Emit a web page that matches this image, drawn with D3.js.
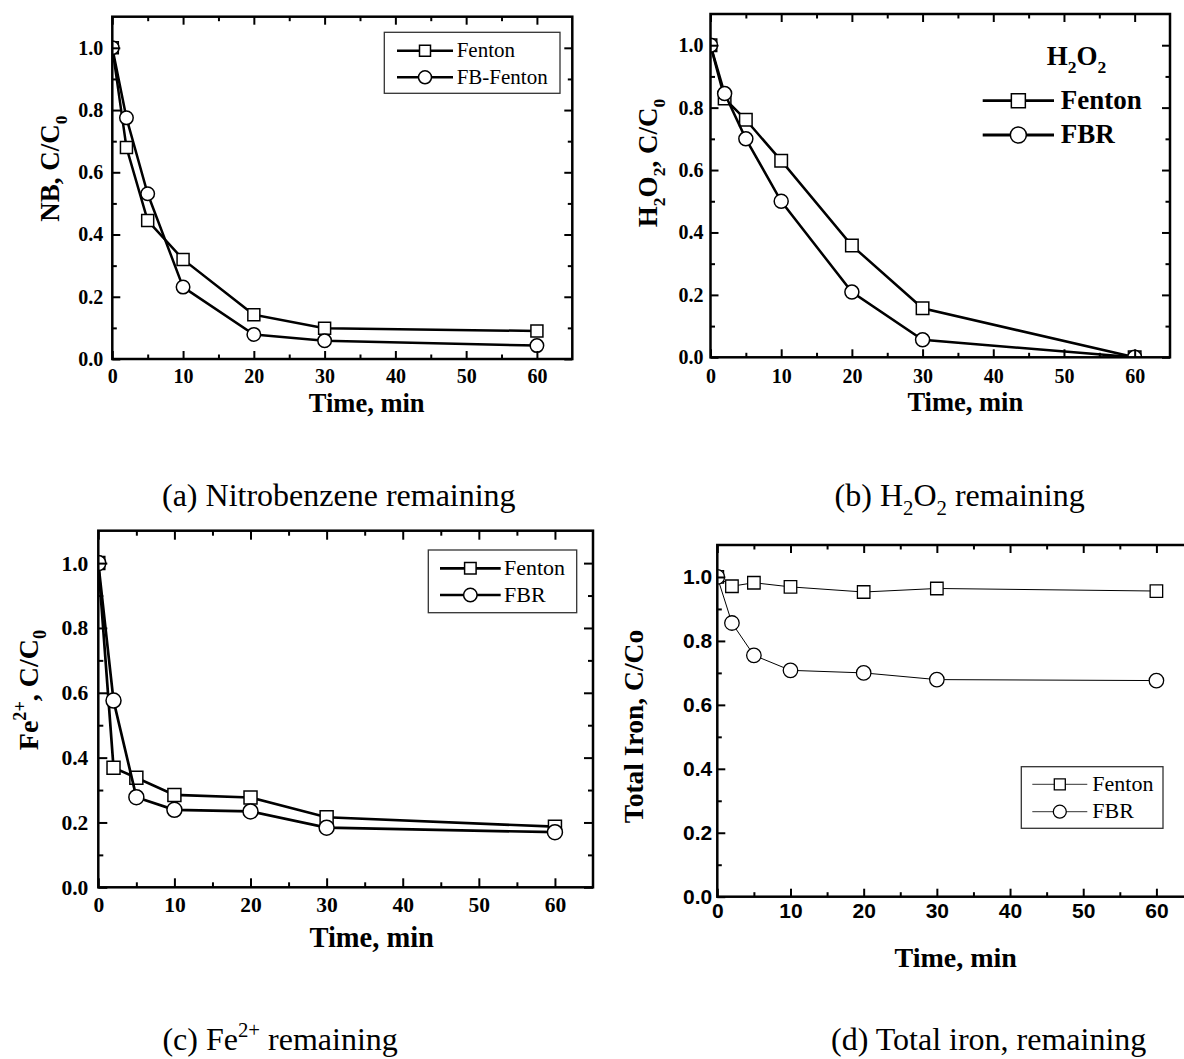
<!DOCTYPE html>
<html lang="en">
<head>
<meta charset="utf-8">
<title>Fenton vs FBR</title>
<script src="https://cdn.jsdelivr.net/npm/d3@7"></script>
<style>
    body { margin: 0; background: #fff; }
    .axis path.domain { display: none; }
    .axis line { stroke: #000; stroke-width: 2; }
    .axis text { font-family: "Liberation Serif", "Times New Roman", serif; font-weight: bold; fill: #000; }
    .sans .axis text { font-family: "Liberation Sans", Arial, sans-serif; }
    .frame { fill: none; stroke: #000; stroke-width: 2.5; }
    .line { fill: none; stroke: #000; }
    .marker { fill: #fff; stroke: #000; }
    .title { font-family: "Liberation Serif", "Times New Roman", serif; font-weight: bold; fill: #000; }
    .legend text { font-family: "Liberation Serif", "Times New Roman", serif; fill: #000; }
    .caption { font-family: "Liberation Serif", "Times New Roman", serif; font-size: 32px; fill: #000; }
</style>
</head>
<body>
<div id="chart"></div>
<script>

// sampling times (min)
var times = [0, 2, 5, 10, 20, 30, 60];

// (a) nitrobenzene
var nbFenton   = [1.0, 0.68, 0.445, 0.32, 0.142, 0.099, 0.09];
var nbFBFenton = [1.0, 0.775, 0.531, 0.231, 0.079, 0.059, 0.043];
// (b) H2O2
var h2o2Fenton = [1.0, 0.829, 0.761, 0.63, 0.358, 0.157, 0.0];
var h2o2FBR    = [1.0, 0.845, 0.70, 0.50, 0.209, 0.056, 0.0];
// (c) Fe2+
var feFenton = [1.0, 0.369, 0.338, 0.285, 0.277, 0.216, 0.187];
var feFBR    = [1.0, 0.576, 0.278, 0.239, 0.234, 0.184, 0.170];
// (d) total iron
var ironFenton = [1.0, 0.971, 0.982, 0.969, 0.953, 0.964, 0.956];
var ironFBR    = [1.0, 0.856, 0.755, 0.708, 0.70, 0.679, 0.676];

var xTicks = [0, 10, 20, 30, 40, 50, 60];
var xMinor = [5, 15, 25, 35, 45, 55];
var yTicks = [0, 0.2, 0.4, 0.6, 0.8, 1.0];
var yMinor = [0.1, 0.3, 0.5, 0.7, 0.9];

var svg = d3.select("#chart").append("svg")
    .attr("width", 1184)
    .attr("height", 1059);

svg.append("rect").attr("width", 1184).attr("height", 1059).attr("fill", "#fff");

// text with sub / superscripts: parts = [[text, ""|"sub"|"sup"], ...]
var shift = {"": 0, sub: 0.3, sup: -0.42};
function richText(sel, parts, fs) {
    parts.forEach(function (p, i) {
        var prev = i > 0 ? parts[i - 1][1] : "";
        var t = sel.append("tspan").text(p[0]);
        var dy = (shift[p[1]] - shift[prev]) * fs;
        if (dy) t.attr("dy", dy);
        if (p[1]) t.attr("font-size", fs * 0.65);
    });
}

function symbolPath(type, size) {
    if (type === "square") return d3.symbol().type(d3.symbolSquare).size(size * size)();
    return d3.symbol().type(d3.symbolCircle).size(Math.PI * size * size / 4)();
}

function drawPanel(p) {
    var x = d3.scaleLinear().domain([0, 65]).range([p.left, p.right]);
    var y = d3.scaleLinear().domain([0, 1.1]).range([p.bottom, p.top]);

    var g = svg.append("g").attr("class", p.sans ? "sans" : "");

    svg.append("clipPath").attr("id", "clip-" + p.id)
        .append("rect")
        .attr("x", p.left).attr("y", p.top)
        .attr("width", p.right - p.left).attr("height", p.bottom - p.top);

    var plot = g.append("g").attr("clip-path", "url(#clip-" + p.id + ")");

    var line = d3.line()
        .x(function (d) { return x(d[0]); })
        .y(function (d) { return y(d[1]); });

    p.series.forEach(function (s) {
        var pts = times.map(function (t, i) { return [t, s.values[i]]; });
        plot.append("path")
            .datum(pts)
            .attr("class", "line")
            .attr("stroke-width", p.lineW)
            .attr("d", line);
        plot.selectAll(null)
            .data(pts)
            .enter()
            .append("path")
            .attr("class", "marker")
            .attr("stroke-width", p.markW)
            .attr("transform", function (d) { return "translate(" + x(d[0]) + "," + y(d[1]) + ")"; })
            .attr("d", symbolPath(s.symbol, s.symbol === "square" ? p.sq : p.ci));
    });

    g.append("rect")
        .attr("class", "frame")
        .attr("x", p.left).attr("y", p.top)
        .attr("width", p.right - p.left).attr("height", p.bottom - p.top);

    var xPad = p.xBase - p.bottom - 0.71 * p.fs;

    // major + minor ticks on all four sides, pointing inward
    var sides = [
        [d3.axisBottom, x, "translate(0," + p.bottom + ")", true],
        [d3.axisTop, x, "translate(0," + p.top + ")", false],
        [d3.axisLeft, y, "translate(" + p.left + ",0)", true],
        [d3.axisRight, y, "translate(" + p.right + ",0)", false]
    ];
    sides.forEach(function (sd) {
        var isX = sd[1] === x;
        var major = sd[0](sd[1])
            .tickValues(isX ? xTicks : yTicks)
            .tickSizeInner(-p.major)
            .tickSizeOuter(0)
            .tickPadding(isX ? xPad : p.yGap)
            .tickFormat(sd[3] ? d3.format(isX ? "d" : ".1f") : "");
        g.append("g").attr("class", "axis")
            .attr("transform", sd[2])
            .style("font-size", p.fs + "px")
            .call(major);
        var minor = sd[0](sd[1])
            .tickValues(isX ? xMinor : yMinor)
            .tickSizeInner(-p.minor)
            .tickSizeOuter(0)
            .tickFormat("");
        g.append("g").attr("class", "axis")
            .attr("transform", sd[2])
            .call(minor);
    });

    // x title
    g.append("text")
        .attr("class", "title")
        .attr("x", p.xt[0]).attr("y", p.xt[1])
        .attr("text-anchor", "middle")
        .style("font-size", p.xt[2] + "px")
        .text("Time, min");

    // y title
    var yt = g.append("text")
        .attr("class", "title")
        .attr("transform", "translate(" + p.yt[0] + "," + p.yt[1] + ") rotate(-90)")
        .attr("text-anchor", "middle")
        .style("font-size", p.yt[2] + "px");
    richText(yt, p.ylabel, p.yt[2]);

    // legend
    var L = p.legend;
    var lg = g.append("g").attr("class", "legend");
    if (L.box) {
        lg.append("rect")
            .attr("x", L.box[0]).attr("y", L.box[1])
            .attr("width", L.box[2]).attr("height", L.box[3])
            .attr("fill", "#fff").attr("stroke", "#333").attr("stroke-width", 1.3);
    }
    if (L.header) {
        var ht = lg.append("text")
            .attr("x", L.header[0]).attr("y", L.header[1])
            .attr("font-weight", "bold")
            .style("font-size", L.fs + "px");
        richText(ht, [["H", ""], ["2", "sub"], ["O", ""], ["2", "sub"]], L.fs);
    }
    p.series.forEach(function (s, i) {
        var yy = L.rows[i];
        var mx = (L.x0 + L.x1) / 2;
        lg.append("line")
            .attr("x1", L.x0).attr("x2", L.x1)
            .attr("y1", yy).attr("y2", yy)
            .attr("stroke", L.lineColor).attr("stroke-width", L.lineW);
        lg.append("path")
            .attr("class", "marker")
            .attr("stroke-width", p.markW)
            .attr("transform", "translate(" + mx + "," + yy + ")")
            .attr("d", symbolPath(s.symbol, s.symbol === "square" ? L.sq : L.ci));
        lg.append("text")
            .attr("x", L.tx).attr("y", yy + 0.3 * L.fs)
            .attr("font-weight", L.bold ? "bold" : "normal")
            .style("font-size", L.fs + "px")
            .text(s.name);
    });

    // caption under the panel
    var cap = svg.append("text")
        .attr("class", "caption")
        .attr("x", p.caption[0]).attr("y", p.caption[1]);
    richText(cap, p.caption[2], 32);
}

drawPanel({
    id: "a", left: 112.3, right: 572.3, top: 16.7, bottom: 359,
    fs: 20, xBase: 383.3, yGap: 9, major: 8, minor: 4.5,
    lineW: 2.5, markW: 1.5, sq: 12, ci: 13.5,
    series: [
        {name: "Fenton", symbol: "square", values: nbFenton},
        {name: "FB-Fenton", symbol: "circle", values: nbFBFenton}
    ],
    xt: [366.7, 411.7, 26.5],
    yt: [59, 168.5, 27],
    ylabel: [["NB, C/C", ""], ["0", "sub"]],
    legend: {box: [384.3, 32.3, 175.7, 61], rows: [50.7, 77.3], x0: 397, x1: 453, tx: 456.7,
             fs: 21, lineW: 2.5, lineColor: "#000", sq: 11, ci: 13},
    caption: [162, 505.5, [["(a) Nitrobenzene remaining", ""]]]
});

drawPanel({
    id: "b", left: 710.5, right: 1170, top: 14, bottom: 357.3,
    fs: 20, xBase: 383.3, yGap: 7, major: 8, minor: 4.5,
    lineW: 2.5, markW: 1.5, sq: 12.5, ci: 14,
    series: [
        {name: "Fenton", symbol: "square", values: h2o2Fenton},
        {name: "FBR", symbol: "circle", values: h2o2FBR}
    ],
    xt: [965.3, 410.7, 26.5],
    yt: [657, 163, 27],
    ylabel: [["H", ""], ["2", "sub"], ["O", ""], ["2", "sub"], [", C/C", ""], ["0", "sub"]],
    legend: {header: [1046.7, 65.3], rows: [100.7, 135], x0: 982.7, x1: 1054, tx: 1060.7,
             fs: 27, bold: true, lineW: 2.8, lineColor: "#000", sq: 14, ci: 16},
    caption: [834.6, 505.5, [["(b) H", ""], ["2", "sub"], ["O", ""], ["2", "sub"], [" remaining", ""]]]
});

drawPanel({
    id: "c", left: 98.3, right: 593, top: 530.7, bottom: 887.3,
    fs: 21.5, xBase: 911.7, yGap: 10, major: 9, minor: 5,
    lineW: 2.7, markW: 1.5, sq: 13, ci: 15,
    series: [
        {name: "Fenton", symbol: "square", values: feFenton},
        {name: "FBR", symbol: "circle", values: feFBR}
    ],
    xt: [371.7, 946.7, 28.5],
    yt: [37.5, 690, 28],
    ylabel: [["Fe", ""], ["2+", "sup"], [", C/C", ""], ["0", "sub"]],
    legend: {box: [428.3, 550, 148.4, 62.7], rows: [568.3, 595], x0: 440, x1: 500.7, tx: 504,
             fs: 22, lineW: 2.7, lineColor: "#000", sq: 11.5, ci: 13.5},
    caption: [162.4, 1050, [["(c) Fe", ""], ["2+", "sup"], [" remaining", ""]]]
});

drawPanel({
    id: "d", sans: true, left: 717.3, right: 1193, top: 545, bottom: 896.7,
    fs: 21, xBase: 918.3, yGap: 5, major: 8, minor: 4.5,
    lineW: 1, markW: 1.3, sq: 12.5, ci: 14.5,
    series: [
        {name: "Fenton", symbol: "square", values: ironFenton},
        {name: "FBR", symbol: "circle", values: ironFBR}
    ],
    xt: [955.7, 966.7, 28],
    yt: [643, 726.5, 27.5],
    ylabel: [["Total Iron, C/Co", ""]],
    legend: {box: [1021.3, 766.7, 141.7, 61.6], rows: [784.3, 811.7], x0: 1032.3, x1: 1087.3, tx: 1092.3,
             fs: 22, lineW: 1, lineColor: "#333", sq: 11, ci: 13},
    caption: [831, 1050, [["(d) Total iron, remaining", ""]]]
});

</script>
</body>
</html>
